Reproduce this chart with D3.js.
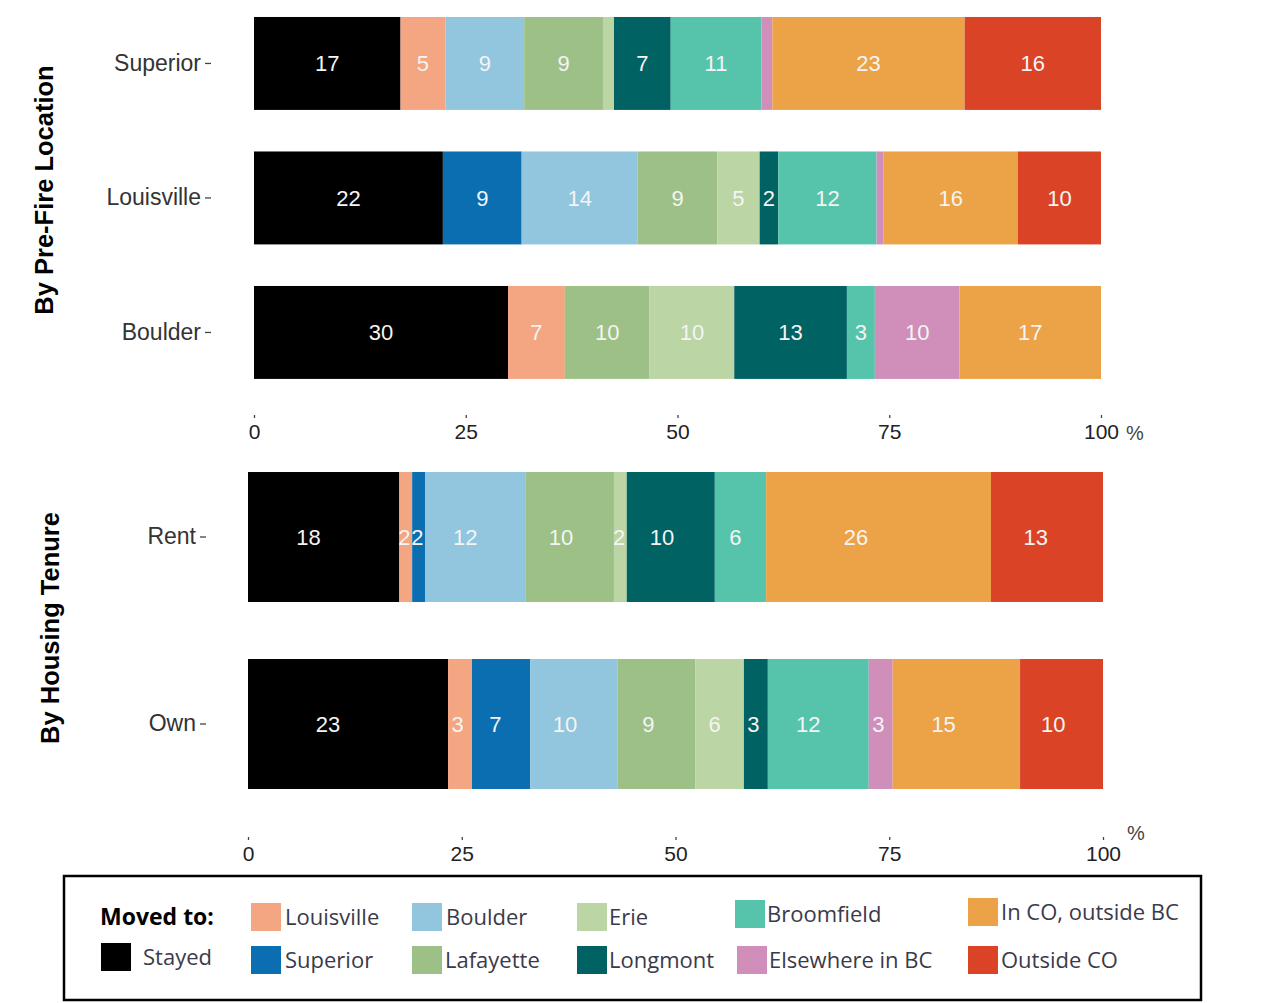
<!DOCTYPE html>
<html>
<head>
<meta charset="utf-8">
<script src="https://cdn.jsdelivr.net/npm/d3@7"></script>
<style>
  html, body { margin: 0; padding: 0; background: #ffffff; }
  svg { display: block; }
</style>
</head>
<body>
<svg id="chart" width="1274" height="1003"></svg>
<script>
// ---------------- DATA ----------------
const topCategories = ["Superior", "Louisville", "Boulder"];
const bottomCategories = ["Rent", "Own"];
const allCategories = ["Superior", "Louisville", "Boulder", "Rent", "Own"];

const seriesNames = ["Stayed", "Louisville", "Superior", "Boulder", "Lafayette", "Erie",
  "Longmont", "Broomfield", "Elsewhere in BC", "In CO, outside BC", "Outside CO"];

// values per category in order: Superior, Louisville, Boulder, Rent, Own (percent)
const stayed       = [17.3, 22.3, 30.0, 17.7, 23.4];
const louisville   = [ 5.3,  0.0,  6.7,  1.5,  2.8];
const superior     = [ 0.0,  9.3,  0.0,  1.5,  6.8];
const boulder      = [ 9.3, 13.7,  0.0, 11.8, 10.2];
const lafayette    = [ 9.3,  9.4, 10.0, 10.3,  9.1];
const erie         = [ 1.3,  5.0, 10.0,  1.5,  5.7];
const longmont     = [ 6.7,  2.2, 13.3, 10.3,  2.8];
const broomfield   = [10.7, 11.6,  3.3,  6.0, 11.8];
const elsewhereBC  = [ 1.3,  0.8, 10.0,  0.0,  2.8];
const inCO         = [22.7, 15.9, 16.7, 26.3, 14.9];
const outsideCO    = [16.1,  9.8,  0.0, 13.1,  9.7];

const seriesValues = [stayed, louisville, superior, boulder, lafayette, erie,
  longmont, broomfield, elsewhereBC, inCO, outsideCO];

const seriesColors = ["#000000", "#f4a582", "#0a6eb0", "#92c5de", "#9dc086", "#bbd5a4",
  "#006262", "#56c4ab", "#d08fbb", "#eca247", "#da4326"];

const xTicks = [0, 25, 50, 75, 100];
const panelTitles = ["By Pre-Fire Location", "By Housing Tenure"];
const legendTitle = "Moved to:";

// ---------------- BUILD TABLE ----------------
const rows = allCategories.map((c, i) => {
  const r = { category: c };
  seriesNames.forEach((s, j) => { r[s] = seriesValues[j][i]; });
  return r;
});
const color = d3.scaleOrdinal().domain(seriesNames).range(seriesColors);
const stack = d3.stack().keys(seriesNames);

const svg = d3.select("#chart");
const labelFont = "'Liberation Sans', Arial, sans-serif";

function drawPanel(cfg) {
  const data = rows.filter(r => cfg.categories.includes(r.category));
  const stacked = stack(data);
  const x = d3.scaleLinear().domain([0, 100]).range(cfg.xRange);
  const y = d3.scaleBand().domain(cfg.categories).range(cfg.yRange)
    .paddingInner(cfg.pad).paddingOuter(cfg.pad / 2);

  const g = svg.append("g");
  const layers = g.selectAll("g.layer").data(stacked).enter().append("g")
    .attr("fill", d => color(d.key));
  layers.selectAll("rect").data(d => d.map(v => ({ key: d.key, v }))).enter()
    .append("rect")
    .attr("x", d => x(d.v[0]))
    .attr("width", d => Math.max(0, x(d.v[1]) - x(d.v[0])))
    .attr("y", d => y(d.v.data.category))
    .attr("height", y.bandwidth());

  // value labels
  layers.selectAll("text").data(d => d.map(v => ({ key: d.key, v }))
      .filter(e => Math.round(e.v[1] - e.v[0]) >= 2)).enter()
    .append("text")
    .attr("x", d => x(d.v[0]) + cfg.labelFrac * (x(d.v[1]) - x(d.v[0])))
    .attr("y", d => y(d.v.data.category) + y.bandwidth() / 2)
    .attr("dy", "0.36em")
    .attr("text-anchor", "middle")
    .attr("fill", "#f4f4f4")
    .style("font-family", labelFont)
    .style("font-size", "22px")
    .text(d => Math.round(d.v[1] - d.v[0]));

  // y axis
  const ya = g.append("g").attr("transform", `translate(${cfg.yAxisX},0)`)
    .call(d3.axisLeft(y).tickSize(6).tickPadding(4));
  ya.select(".domain").remove();
  ya.selectAll(".tick line").attr("stroke", "#444").attr("stroke-width", 1.3);
  ya.selectAll(".tick text").attr("fill", "#333")
    .style("font-family", labelFont).style("font-size", "23px");

  // x axis
  const xa = g.append("g").attr("transform", `translate(0,${cfg.xAxisY})`)
    .call(d3.axisBottom(x).tickValues(xTicks).tickSize(3).tickPadding(cfg.tickPad));
  xa.select(".domain").remove();
  xa.selectAll(".tick line").attr("stroke", "#444").attr("stroke-width", 1.3);
  xa.selectAll(".tick text").attr("fill", "#222")
    .style("font-family", labelFont).style("font-size", "21px");

  g.append("text")
    .attr("x", cfg.pctX).attr("y", cfg.pctY)
    .attr("fill", "#444")
    .style("font-family", labelFont).style("font-size", "20px")
    .text("%");

  g.append("text")
    .attr("transform", `translate(${cfg.titleX},${cfg.titleY}) rotate(-90)`)
    .attr("text-anchor", "middle")
    .attr("fill", "#000")
    .style("font-family", labelFont).style("font-size", "25.5px").style("font-weight", "bold")
    .text(cfg.title);
}

drawPanel({
  categories: topCategories, xRange: [254, 1101], yRange: [-3.8, 399.7], pad: 0.309,
  yAxisX: 211, xAxisY: 415, tickPad: 6.5, pctX: 1126, pctY: 440, labelFrac: 0.5,
  title: panelTitles[0], titleX: 53, titleY: 190
});
drawPanel({
  categories: bottomCategories, xRange: [248, 1103], yRange: [443.5, 817.5], pad: 0.305,
  yAxisX: 206, xAxisY: 837, tickPad: 5.6, pctX: 1127, pctY: 840, labelFrac: 0.4,
  title: panelTitles[1], titleX: 59, titleY: 628
});

// ---------------- LEGEND ----------------
const legend = svg.append("g");
legend.append("rect")
  .attr("x", 64).attr("y", 876).attr("width", 1137).attr("height", 124)
  .attr("fill", "none").attr("stroke", "#000").attr("stroke-width", 2.5);

const legendFont = "'Open Sans', 'DejaVu Sans', sans-serif";
legend.append("text")
  .attr("x", 100).attr("y", 925)
  .attr("fill", "#000")
  .style("font-family", legendFont).style("font-size", "23px").style("font-weight", "bold")
  .text(legendTitle);

// layout (column, row) for each series in the legend
const legendLayout = [
  { col: 0, row: 1, sx: 101, tx: 143, dy: -3 },
  { col: 1, row: 0, sx: 251, tx: 285, dy: 0 },
  { col: 1, row: 1, sx: 251, tx: 285, dy: 0 },
  { col: 2, row: 0, sx: 412, tx: 446, dy: 0 },
  { col: 2, row: 1, sx: 412, tx: 445, dy: 0 },
  { col: 3, row: 0, sx: 577, tx: 609, dy: 0 },
  { col: 3, row: 1, sx: 577, tx: 609, dy: 0 },
  { col: 4, row: 0, sx: 735, tx: 767, dy: -3 },
  { col: 4, row: 1, sx: 737, tx: 769, dy: 0 },
  { col: 5, row: 0, sx: 968, tx: 1001, dy: -5 },
  { col: 5, row: 1, sx: 968, tx: 1001, dy: 0 }
];
const rowY = [903, 946];
seriesNames.forEach((name, i) => {
  const L = legendLayout[i];
  const y0 = rowY[L.row] + L.dy;
  legend.append("rect")
    .attr("x", L.sx).attr("y", y0).attr("width", 30).attr("height", 28)
    .attr("fill", color(name));
  legend.append("text")
    .attr("x", L.tx).attr("y", y0 + 22)
    .attr("fill", "#3a3a4a")
    .style("font-family", legendFont).style("font-size", "22px")
    .text(name);
});
</script>
</body>
</html>
